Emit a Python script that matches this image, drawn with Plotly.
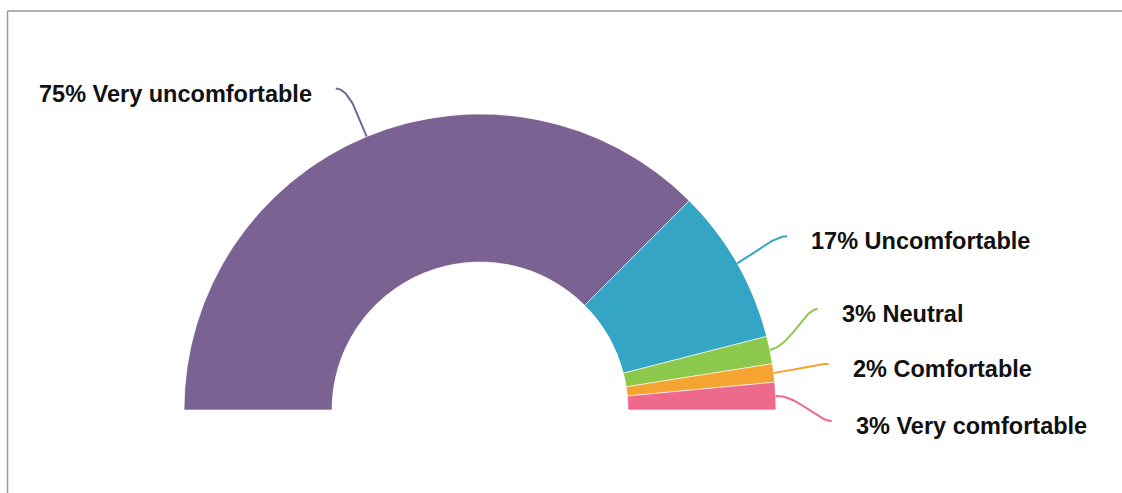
import numpy as np
import plotly.graph_objects as go

# ---- data ----
categories = ["Very uncomfortable", "Uncomfortable", "Neutral", "Comfortable", "Very comfortable"]
percents = [75, 17, 3, 2, 3]
colors = ["#7A6292", "#35A5C5", "#8CC84B", "#F5A432", "#EE6A8C"]

# ---- style: connector end offsets (px from slice tip) and label side ----
conn_offsets = [(-31, -48), (50, -27), (48, -41), (55, -9), (56, 25)]
label_side = ["left", "right", "right", "right", "right"]

W, H = 1122, 493
dom_x = [184 / W, 776 / W]
dom_y = [(H - 410) / H, (H - 114) / H]

total = sum(percents)
spans = [p / total * 180.0 for p in percents]
starts = np.concatenate([[0], np.cumsum(spans)[:-1]])
mids = [s + sp / 2 for s, sp in zip(starts, spans)]

fig = go.Figure()
for cat, p, c, m, sp in zip(categories, percents, colors, mids, spans):
    fig.add_trace(go.Barpolar(
        r=[1], base=[0], theta=[m], width=[sp], name=cat,
        marker=dict(color=c, line=dict(color="white", width=0.6)),
        showlegend=False, hoverinfo="skip",
    ))

# polar geometry in pixels
cx = (dom_x[0] + dom_x[1]) / 2 * W
R = (dom_x[1] - dom_x[0]) * W / 2
cy = H - dom_y[0] * H


def polar_px(theta, rr=1.0):
    a = np.deg2rad(180 - theta)
    return cx + rr * R * np.cos(a), cy - rr * R * np.sin(a)


annotations = []
for cat, p, c, m, off, side in zip(categories, percents, colors, mids, conn_offsets, label_side):
    x0, y0 = polar_px(m)
    x3, y3 = x0 + off[0], y0 + off[1]
    a = np.deg2rad(180 - m)
    k = 22
    x1, y1 = x0 + k * np.cos(a), y0 - k * np.sin(a)
    hdir = -1 if side == "left" else 1
    x2, y2 = x3 - hdir * 14, y3
    t = np.linspace(0, 1, 30)
    bx = (1 - t) ** 3 * x0 + 3 * (1 - t) ** 2 * t * x1 + 3 * (1 - t) * t ** 2 * x2 + t ** 3 * x3
    by = (1 - t) ** 3 * y0 + 3 * (1 - t) ** 2 * t * y1 + 3 * (1 - t) * t ** 2 * y2 + t ** 3 * y3
    fig.add_trace(go.Scatter(x=bx, y=by, mode="lines", line=dict(color=c, width=2),
                             showlegend=False, hoverinfo="skip", cliponaxis=False))
    lx = x3 + hdir * 22
    annotations.append(dict(
        x=lx, y=y3 + 5, xref="x", yref="y", showarrow=False,
        text=f"<b>{p}% {cat}</b>",
        xanchor="right" if side == "left" else "left", yanchor="middle",
        font=dict(family="Liberation Sans, Arial, sans-serif", size=23.5, color="#111111"),
    ))

fig.update_layout(
    width=W, height=H,
    margin=dict(l=0, r=0, t=0, b=0),
    paper_bgcolor="white", plot_bgcolor="rgba(0,0,0,0)",
    polar=dict(
        domain=dict(x=dom_x, y=dom_y),
        sector=[0, 180], hole=0.5, bgcolor="rgba(0,0,0,0)",
        radialaxis=dict(visible=False, range=[0, 1]),
        angularaxis=dict(visible=False, rotation=180, direction="clockwise"),
        bargap=0,
    ),
    xaxis=dict(range=[0, W], visible=False, fixedrange=True),
    yaxis=dict(range=[H, 0], visible=False, fixedrange=True),
    annotations=annotations,
    shapes=[
        dict(type="line", xref="x", yref="y", x0=7.5, x1=W, y0=11, y1=11,
             line=dict(color="#9a9a9a", width=1.5)),
        dict(type="line", xref="x", yref="y", x0=7.5, x1=7.5, y0=11, y1=H,
             line=dict(color="#9a9a9a", width=1.5)),
    ],
)

fig.write_html("out.html", config={"displayModeBar": False})

# remove the default page margin so the figure fills the window exactly
with open("out.html", "r", encoding="utf-8") as f:
    html = f.read()
html = html.replace("<head>", "<head><style>html,body{margin:0;padding:0;overflow:hidden;}</style>", 1)
with open("out.html", "w", encoding="utf-8") as f:
    f.write(html)
